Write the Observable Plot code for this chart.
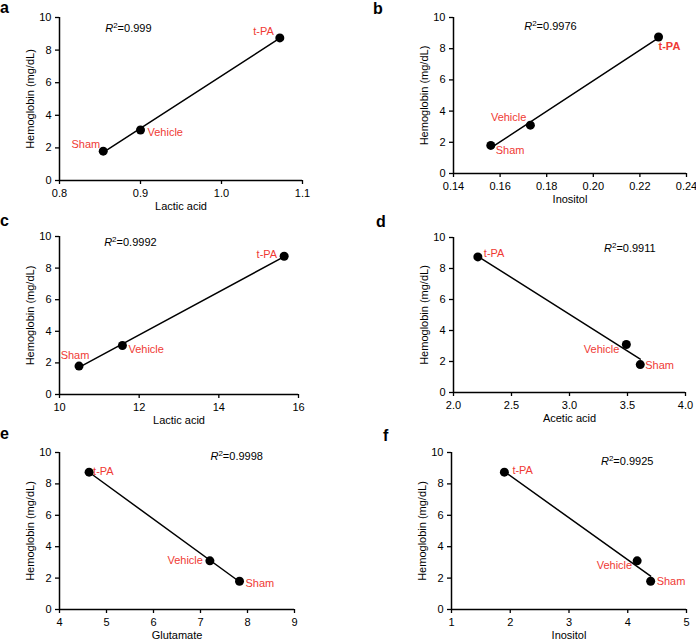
<!DOCTYPE html>
<html><head><meta charset="utf-8">
<script src="https://cdn.jsdelivr.net/npm/d3@7"></script>
<script src="https://cdn.jsdelivr.net/npm/@observablehq/plot@0.6"></script>
<style>
body{margin:0;background:#fff;}
#wrap{position:relative;width:696px;height:641px;overflow:hidden;font-family:"Liberation Sans",Arial,sans-serif;}
.panel{position:absolute;}
.letter{position:absolute;font-weight:bold;font-size:16px;line-height:16px;color:#000;}
</style></head><body><div id="wrap"></div>
<script>
// ---- data ----
const groups = ["Sham", "Vehicle", "t-PA"];
const hemoglobin = [1.8, 3.1, 8.75];
const lacticAcidA = [0.854, 0.900, 1.072];
const inositolB = [0.156, 0.173, 0.228];
const lacticAcidC = [10.49, 11.58, 15.64];
const aceticAcidD = [3.61, 3.49, 2.21];
const glutamateE = [7.83, 7.20, 4.63];
const inositolF = [4.39, 4.16, 1.90];
const rSquared = ["0.999", "0.9976", "0.9992", "0.9911", "0.9998", "0.9925"];
const panelLetters = ["a", "b", "c", "d", "e", "f"];
const xTitles = ["Lactic acid", "Inositol", "Lactic acid", "Acetic acid", "Glutamate", "Inositol"];
const yTitle = "Hemoglobin (mg/dL)";
const xTicksA = [0.8, 0.9, 1.0, 1.1];
const xTicksB = [0.14, 0.16, 0.18, 0.20, 0.22, 0.24];
const xTicksC = [10, 12, 14, 16];
const xTicksD = [2.0, 2.5, 3.0, 3.5, 4.0];
const xTicksE = [4, 5, 6, 7, 8, 9];
const xTicksF = [1, 2, 3, 4, 5];
const yTicks = [0, 2, 4, 6, 8, 10];

// ---- layout / style ----
const RED = "#ef3a34";
const layout = [
  {xs: lacticAcidA, ticks: xTicksA, fmt: ".1f", left: 0, top: 0, height: 212, m: [17, 46, 32, 59],
   r2at: [0.885, 9.3], letter: [0, 0],
   lab: [["end", -3, -7], ["start", 7, 2], ["end", -6, -6]]},
  {xs: inositolB, ticks: xTicksB, fmt: ".2f", left: 348, top: 0, height: 212, m: [17, 10, 39, 105],
   r2at: [0.1816, 9.4], letter: [25, 1],
   lab: [["start", 5, 5], ["end", -4, -8], ["start", 0, 9, "bold"]]},
  {xs: lacticAcidC, ticks: xTicksC, fmt: "d", left: 0, top: 210, height: 222, m: [26, 50, 38, 59],
   r2at: [11.78, 9.62], letter: [0, 3],
   lab: [["middle", -4, -11], ["start", 6, 4], ["end", -7, -2]]},
  {xs: aceticAcidD, ticks: xTicksD, fmt: ".1f", left: 348, top: 210, height: 222, m: [27, 11, 40, 105],
   r2at: [3.52, 9.29], letter: [28, 4],
   lab: [["start", 5, 1], ["end", -7, 5], ["start", 6, -3]]},
  {xs: glutamateE, ticks: xTicksE, fmt: "d", left: 0, top: 420, height: 221, m: [32, 54, 32, 59],
   r2at: [7.77, 9.74], letter: [0, 6],
   lab: [["start", 6, 2], ["end", -7, 0], ["start", 4, -1]]},
  {xs: inositolF, ticks: xTicksF, fmt: "d", left: 348, top: 420, height: 221, m: [32, 10, 32, 103],
   r2at: [3.99, 9.44], letter: [35, 8],
   lab: [["start", 6, 0], ["end", -5, 5], ["start", 8, -2]]}
];

const wrap = document.getElementById("wrap");

layout.forEach((p, i) => {
  const rows = groups.map((g, k) => ({group: g, x: p.xs[k], y: hemoglobin[k]}));
  const xDomain = [p.ticks[0], p.ticks[p.ticks.length - 1]];
  const labelMarks = rows.map((r, k) => Plot.text([r], {
    x: "x", y: "y", text: "group", fill: RED, fontSize: 11,
    textAnchor: p.lab[k][0], dx: p.lab[k][1], dy: p.lab[k][2],
    fontWeight: p.lab[k][3] || "normal"
  }));
  const svg = Plot.plot({
    width: 348,
    height: p.height,
    marginTop: p.m[0], marginRight: p.m[1], marginBottom: p.m[2], marginLeft: p.m[3],
    style: {background: "none", fontFamily: "'Liberation Sans', Arial, sans-serif", fontSize: "11px", color: "#000", overflow: "visible"},
    x: {domain: xDomain, nice: false},
    y: {domain: [0, 10], nice: false},
    marks: [
      Plot.axisX({ticks: p.ticks, tickFormat: d3.format(p.fmt), tickSize: 4, tickPadding: 5, label: null, strokeWidth: 1.3, fontSize: 11}),
      Plot.axisY({ticks: yTicks, tickSize: 4, tickPadding: 4, label: null, strokeWidth: 1.3, fontSize: 11}),
      Plot.ruleX([xDomain[0]], {stroke: "#000", strokeWidth: 1.5}),
      Plot.ruleY([0], {stroke: "#000", strokeWidth: 1.5}),
      Plot.linearRegressionY(rows, {x: "x", y: "y", ci: 0, stroke: "#000", strokeWidth: 1.5}),
      Plot.dot(rows, {x: "x", y: "y", r: 4.5, fill: "#000"}),
      ...labelMarks,
      Plot.text([xTitles[i]], {frameAnchor: "bottom", textAnchor: "middle", lineAnchor: "middle", dy: 26, text: d => d, fontSize: 11, fill: "#000"}),
      Plot.text([yTitle], {frameAnchor: "left", textAnchor: "middle", lineAnchor: "middle", dx: -29, rotate: -90, text: d => d, fontSize: 11, fill: "#000"}),
      Plot.text(["R²=" + rSquared[i]], {x: () => p.r2at[0], y: () => p.r2at[1], text: d => d, fontSize: 11, fill: "#000"})
    ]
  });
  // italic R with superscript 2
  svg.querySelectorAll("text").forEach(t => {
    if (t.textContent.startsWith("R²=")) {
      const rest = t.textContent.slice(3);
      t.textContent = "";
      const ns = "http://www.w3.org/2000/svg";
      const a = document.createElementNS(ns, "tspan"); a.setAttribute("font-style", "italic"); a.textContent = "R";
      const b = document.createElementNS(ns, "tspan"); b.setAttribute("font-size", "8"); b.setAttribute("dy", "-4"); b.textContent = "2";
      const c = document.createElementNS(ns, "tspan"); c.setAttribute("dy", "4"); c.textContent = "=" + rest;
      t.append(a, b, c);
    }
  });
  const div = document.createElement("div");
  div.className = "panel";
  div.style.left = p.left + "px";
  div.style.top = p.top + "px";
  div.appendChild(svg);
  wrap.appendChild(div);
  const L = document.createElement("div");
  L.className = "letter";
  L.style.left = (p.left + p.letter[0]) + "px";
  L.style.top = (p.top + p.letter[1]) + "px";
  L.textContent = panelLetters[i];
  wrap.appendChild(L);
});
</script>
</body></html>
